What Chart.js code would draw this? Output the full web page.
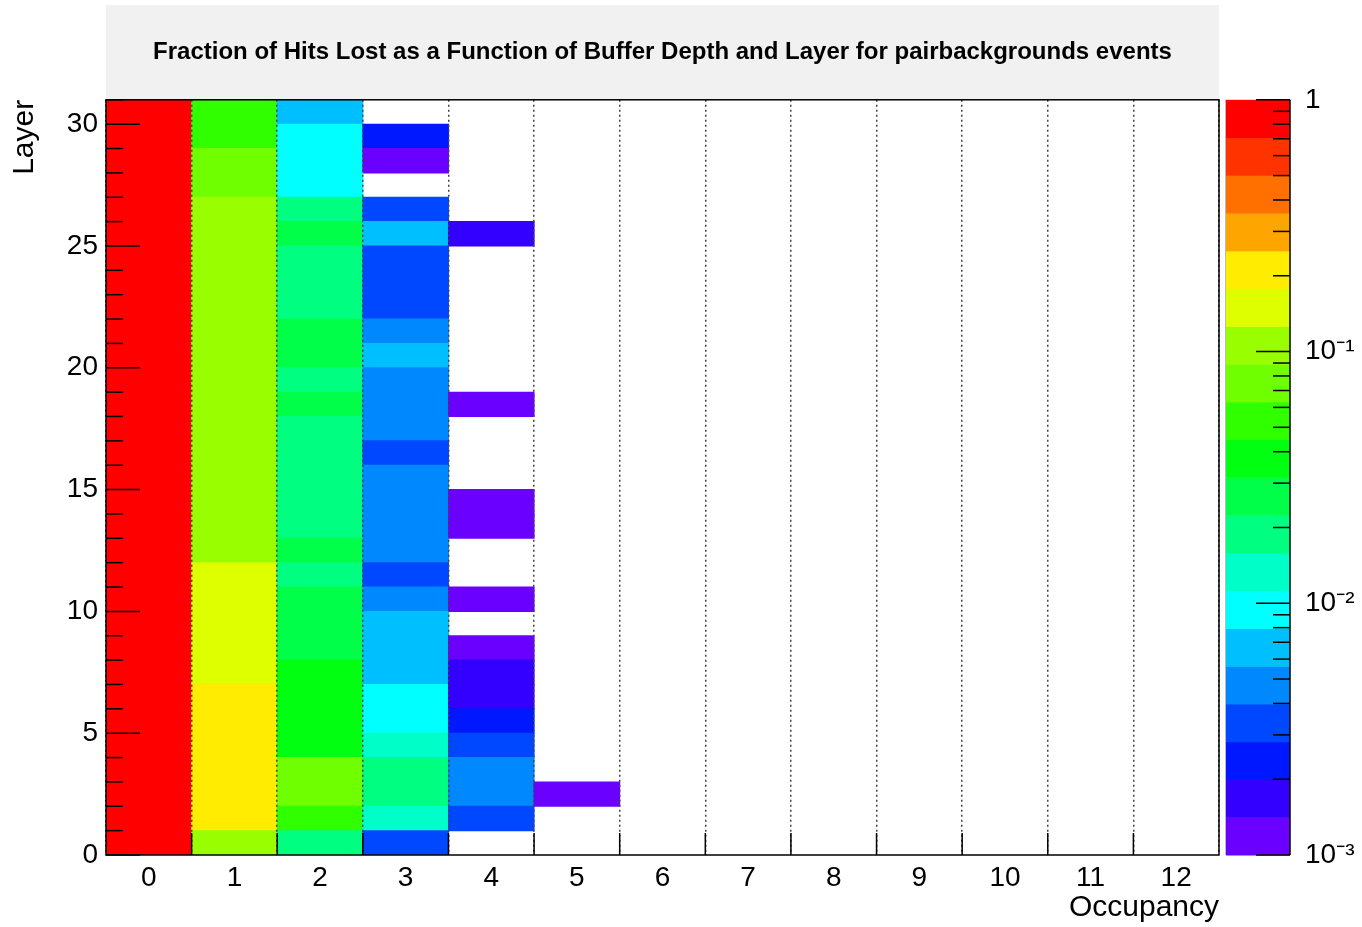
<!DOCTYPE html>
<html>
<head>
<meta charset="utf-8">
<title>Fraction of Hits Lost</title>
<script src="https://cdn.jsdelivr.net/npm/chart.js@4.4.0/dist/chart.umd.min.js"></script>
<style>
  body { margin: 0; background: #fff; }
  #wrap { width: 1362px; height: 927px; }
</style>
</head>
<body>
<div id="wrap"><canvas id="hitsLost" width="1362" height="927"></canvas></div>
<script>
// bins: occupancy (buffer depth) on x, layer on y
const occupancy = ['0', '1', '2', '3', '4', '5', '6', '7', '8', '9', '10', '11', '12']
const layers = [0, 1, 2, 3, 4, 5, 6, 7, 8, 9, 10, 11, 12, 13, 14, 15, 16, 17, 18, 19, 20, 21, 22, 23, 24, 25, 26, 27, 28, 29, 30]

// fraction of hits lost, index = layer, null = empty bin
const occ0 = [1, 1, 1, 1, 1, 1, 1, 1, 1, 1, 1, 1, 1, 1, 1, 1, 1, 1, 1, 1, 1, 1, 1, 1, 1, 1, 1, 1, 1, 1, 1]
const occ1 = [0.105, 0.21, 0.22, 0.21, 0.20, 0.21, 0.20, 0.15, 0.14, 0.15, 0.15, 0.14,
    0.11, 0.11, 0.10, 0.11, 0.11, 0.10, 0.11, 0.11, 0.10, 0.11, 0.11, 0.11, 0.10, 0.11, 0.10,
    0.075, 0.072, 0.052, 0.054]
const occ2 = [0.019, 0.050, 0.072, 0.070, 0.038, 0.037, 0.039, 0.038, 0.027, 0.026, 0.027, 0.019,
    0.025, 0.019, 0.018, 0.019, 0.019, 0.018, 0.026, 0.019, 0.027, 0.026, 0.019, 0.018, 0.019,
    0.027, 0.019, 0.0095, 0.0093, 0.0094, 0.0066]
const occ3 = [0.0034, 0.013, 0.019, 0.018, 0.013, 0.0095, 0.0092, 0.0066, 0.0068, 0.0065, 0.0047, 0.0034,
    0.0048, 0.0046, 0.0047, 0.0047, 0.0034, 0.0047, 0.0046, 0.0048, 0.0067, 0.0047, 0.0034, 0.0033, 0.0035,
    0.0066, 0.0034, null, 0.0012, 0.0024, null]
const occ4 = [null, 0.0034, 0.0047, 0.0046, 0.0034, 0.0024, 0.0017, 0.0017, 0.0012, null, 0.0012, null,
    null, 0.0012, 0.0012, null, null, null, 0.0012, null, null, null, null, null, null,
    0.0017, null, null, null, null, null]
const occ5 = [null, null, 0.0012, null, null, null, null, null, null, null, null, null,
    null, null, null, null, null, null, null, null, null, null, null, null, null,
    null, null, null, null, null, null]
// occupancy 6..12: no entries

const columns = [occ0, occ1, occ2, occ3, occ4, occ5]

// log colour scale, 20 contours (violet -> red)
const zMin = 1e-3, zMax = 1, nContours = 20
const palette = ['#6a00ff', '#3300ff', '#0018ff', '#0048ff', '#0088ff', '#00bfff', '#00ffff', '#00ffc8',
    '#00ff80', '#00ff48', '#00ff10', '#30ff00', '#70ff00', '#99ff00', '#ddff00', '#ffec00',
    '#ffa500', '#ff7000', '#ff3300', '#ff0000']

function binColor(v) {
    const step = (Math.log10(zMax) - Math.log10(zMin)) / nContours
    let i = Math.floor((Math.log10(v) - Math.log10(zMin)) / step)
    i = Math.max(0, Math.min(nContours - 1, i))
    return palette[i]
}

function cell(k, L) {
    return columns[k] ? columns[k][L] : null
}

// one floating-bar dataset per layer row
const datasets = layers.map(L => ({
    label: 'Layer ' + L,
    data: occupancy.map((o, k) => cell(k, L) != null ? [L, L + 1] : null),
    backgroundColor: occupancy.map((o, k) => cell(k, L) != null ? binColor(cell(k, L)) : 'rgba(0,0,0,0)'),
    borderWidth: 0,
    inflateAmount: 0.5, // no seams between rows
    barPercentage: 1,
    categoryPercentage: 1,
    grouped: false
}))

const fontFamily = "'Liberation Sans', Arial, Helvetica, sans-serif"
Chart.defaults.font.family = fontFamily
Chart.defaults.color = '#000'

const supers = { '-1': '10\u207B\u00B9', '-2': '10\u207B\u00B2', '-3': '10\u207B\u00B3' }

// ROOT-like frame, inner ticks, title box and colour palette
const rootDecor = {
    id: 'rootDecor',
    beforeDraw(chart) {
        const ctx = chart.ctx, t = chart.titleBlock
        ctx.save()
        ctx.fillStyle = '#f1f1f1'
        ctx.fillRect(t.left, t.top, t.width, t.height)
        ctx.restore()
    },
    afterDraw(chart) {
        const ctx = chart.ctx, a = chart.chartArea
        const x = chart.scales.x, y = chart.scales.y, z = chart.scales.z
        ctx.save()
        ctx.strokeStyle = '#000'
        ctx.lineWidth = 1.5

        // y ticks, inside
        for (let v = 0; v <= 31; v++) {
            const py = y.getPixelForValue(v)
            const len = v % 5 === 0 ? 34 : 17
            ctx.beginPath(); ctx.moveTo(a.left, py); ctx.lineTo(a.left + len, py); ctx.stroke()
        }
        // x ticks at bin edges
        for (let k = 1; k < occupancy.length; k++) {
            const px = (x.getPixelForValue(k - 1) + x.getPixelForValue(k)) / 2
            ctx.beginPath(); ctx.moveTo(px, a.bottom); ctx.lineTo(px, a.bottom - 22); ctx.stroke()
        }
        ctx.strokeRect(a.left, a.top, a.right - a.left, a.bottom - a.top)

        // colour bar
        const cl = a.right + 7, cr = a.right + 71
        const step = (Math.log10(zMax) - Math.log10(zMin)) / nContours
        for (let i = 0; i < nContours; i++) {
            const y0 = z.getPixelForValue(Math.pow(10, Math.log10(zMin) + step * i))
            const y1 = z.getPixelForValue(Math.pow(10, Math.log10(zMin) + step * (i + 1)))
            ctx.fillStyle = palette[i]
            ctx.fillRect(cl, y1, cr - cl, y0 - y1 + 0.5)
        }
        ctx.strokeStyle = '#bbb'
        ctx.lineWidth = 1
        ctx.beginPath(); ctx.moveTo(cl - 0.5, z.top); ctx.lineTo(cl - 0.5, z.bottom); ctx.stroke()
        ctx.strokeStyle = '#000'
        ctx.lineWidth = 1.5
        ctx.beginPath(); ctx.moveTo(cr, z.top); ctx.lineTo(cr, z.bottom); ctx.stroke()
        for (let e = -3; e <= 0; e++) {
            for (let m = 1; m <= 9; m++) {
                const v = m * Math.pow(10, e)
                if (v > zMax * 1.0001) continue
                const py = z.getPixelForValue(v)
                const len = m === 1 ? 34 : 17
                ctx.beginPath(); ctx.moveTo(cr, py); ctx.lineTo(cr - len, py); ctx.stroke()
            }
        }
        ctx.restore()
    }
}

new Chart(document.getElementById('hitsLost'), {
    type: 'bar',
    data: { labels: occupancy, datasets: datasets },
    options: {
        responsive: false,
        animation: false,
        devicePixelRatio: 1,
        layout: { padding: { top: 5, left: 0, right: 0, bottom: 0 } },
        plugins: {
            legend: { display: false },
            tooltip: { enabled: false },
            title: {
                display: true,
                fullSize: false,
                text: 'Fraction of Hits Lost as a Function of Buffer Depth and Layer for pairbackgrounds events',
                font: { size: 24, weight: 'bold' },
                color: '#000',
                padding: { top: 33, bottom: 33 }
            }
        },
        scales: {
            x: {
                type: 'category',
                offset: true,
                grid: { offset: true, color: '#444', lineWidth: 1.5, drawTicks: false, z: 1 },
                border: { display: false, dash: [2, 3] },
                ticks: { font: { size: 28 }, padding: 6, maxRotation: 0, autoSkip: false },
                title: { display: true, text: 'Occupancy', align: 'end', font: { size: 30 }, padding: { top: 0, bottom: 1 } },
                afterFit: s => { s.height = 72 }
            },
            y: {
                type: 'linear',
                min: 0,
                max: 31,
                grid: { display: false, drawTicks: false },
                border: { display: false },
                ticks: { stepSize: 5, includeBounds: false, padding: 8, font: { size: 28 } },
                title: { display: true, text: 'Layer', align: 'end', font: { size: 30 }, padding: { top: 7, bottom: 0 } },
                afterFit: s => { s.width = 106; s.paddingTop = 0; s.paddingBottom = 0 }
            },
            z: {
                type: 'logarithmic',
                position: 'right',
                min: zMin,
                max: zMax,
                grid: { display: false, drawTicks: false },
                border: { display: false },
                ticks: {
                    autoSkip: false,
                    padding: 86,
                    font: { size: 28 },
                    callback: v => {
                        const e = Math.log10(v)
                        if (Math.abs(e - Math.round(e)) > 1e-9) return ''
                        return Math.round(e) === 0 ? '1' : supers[String(Math.round(e))]
                    }
                },
                afterFit: s => { s.width = 143; s.paddingTop = 0; s.paddingBottom = 0 }
            }
        }
    },
    plugins: [rootDecor]
})
</script>
</body>
</html>
